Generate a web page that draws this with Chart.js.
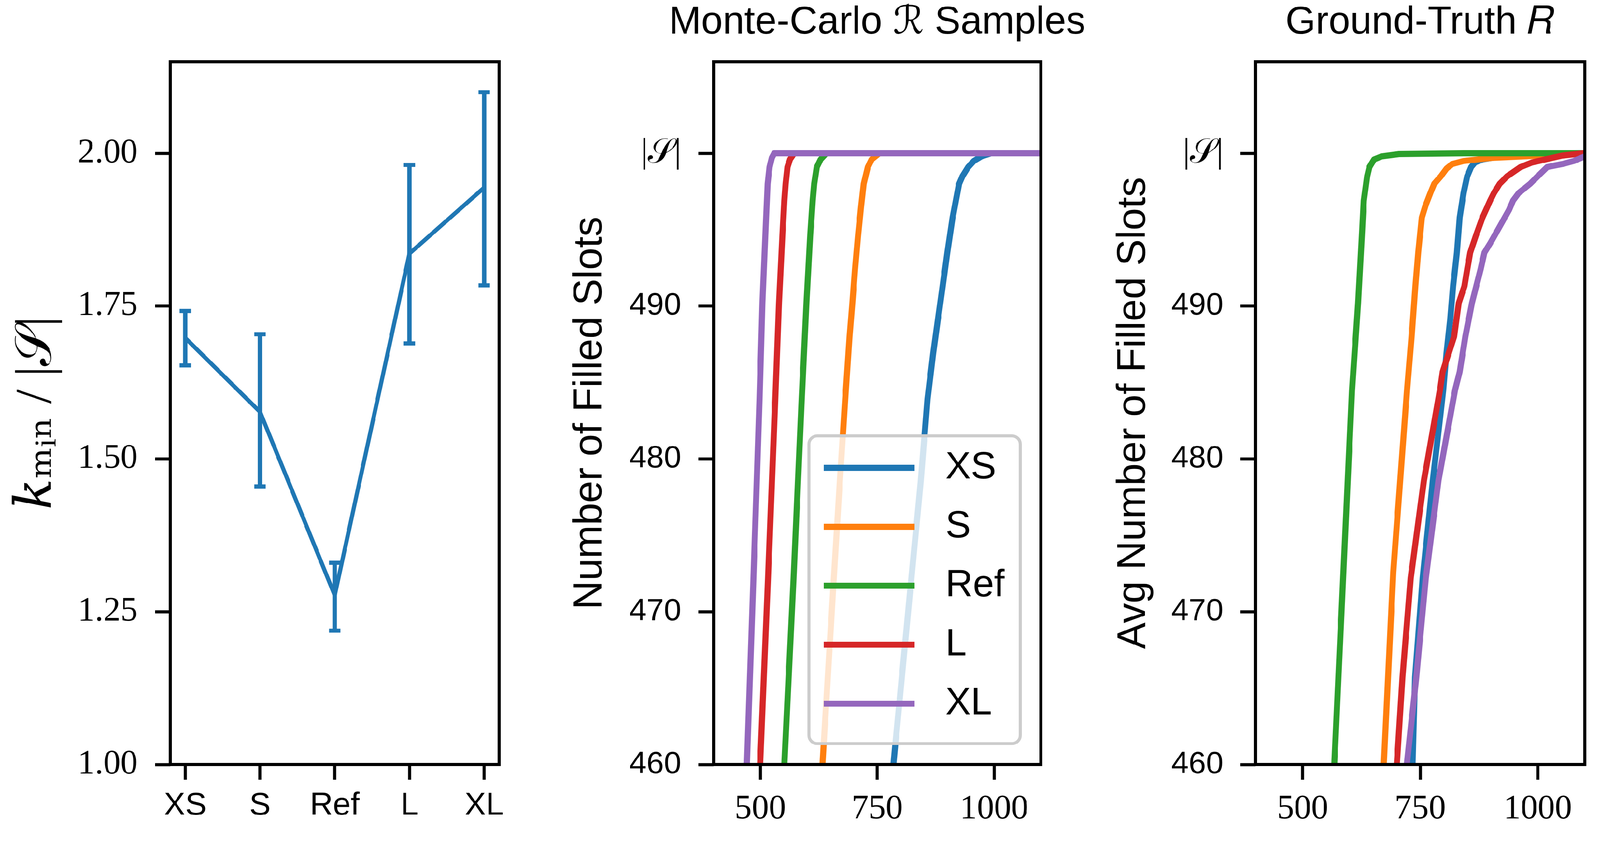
<!DOCTYPE html>
<html>
<head>
<meta charset="utf-8">
<script src="https://cdn.jsdelivr.net/npm/chart.js@4.4.1/dist/chart.umd.min.js"></script>
<style>
  html, body { margin: 0; padding: 0; background: #fff; overflow: hidden; }
  #page { position: relative; width: 4209px; height: 2185px; background: #fff; overflow: hidden; transform-origin: 0 0; }
  #page canvas { position: absolute; top: 0; }
</style>
</head>
<body>
<div id="page">
  <canvas id="sizeChart" width="1400" height="2185" style="left:0px"></canvas>
  <canvas id="mcChart" width="1500" height="2185" style="left:1440px"></canvas>
  <canvas id="gtChart" width="1349" height="2185" style="left:2860px"></canvas>
</div>
<script>
// --- data ---
const sizeLabels = ['XS', 'S', 'Ref', 'L', 'XL'];
const seriesColors = ['#1f77b4', '#ff7f0e', '#2ca02c', '#d62728', '#9467bd'];

// left panel: k_min / |S| per size, with error bar ends
const kMinMean = [1.698, 1.577, 1.277, 1.836, 1.944];
const kMinLow = [1.653, 1.455, 1.219, 1.689, 1.784];
const kMinHigh = [1.742, 1.704, 1.330, 1.981, 2.100];
const kMinTicks = [1.00, 1.25, 1.50, 1.75, 2.00];

// shared ticks of the two curve panels
const slotTicks = [460, 470, 480, 490, 500];
const slotTickText = ['460', '470', '480', '490', '|𝒮|'];
const sampleTicks = [500, 750, 1000];

// middle panel: Monte-Carlo samples, [x, filled slots]
const mcXS = [[784.7, 460], [823.2, 472.2], [843.4, 478.6], [857.6, 483.9], [869.7, 486.9], [879.8, 489.1],
  [890, 491.3], [900, 493.5], [911.4, 495.8], [918.3, 496.9], [925.2, 498], [932.4, 498.5], [944.6, 499.1],
  [956.7, 499.5], [972.9, 499.8], [993, 500], [1100, 500]];
const mcS = [[633, 460], [657.3, 472.2], [670.3, 478.6], [681.6, 483.9], [690.9, 488], [697, 490.2],
  [702.6, 492.4], [709.1, 494.6], [715.5, 496.5], [721.2, 498], [730.1, 499.1], [738.2, 499.6], [754.4, 500], [1100, 500]];
const mcRef = [[551.4, 460], [571.2, 472.2], [588.6, 483.9], [598.7, 490.2], [606.8, 494.6], [612, 496.9],
  [615.3, 498], [620.9, 499.1], [629, 499.6], [641.2, 500], [1100, 500]];
const mcL = [[499.6, 460], [516.6, 472.2], [532, 483.9], [540, 490.2], [547.3, 494.6], [551.4, 496.9],
  [554.2, 498], [558.2, 499.1], [563.5, 499.6], [572.4, 500], [1100, 500]];
const mcXL = [[471.3, 460], [485.4, 472.2], [498.4, 483.9], [504.5, 490.2], [512.5, 495.8], [515.8, 498],
  [519.8, 499.1], [524.7, 499.7], [529.9, 500], [1100, 500]];

// right panel: ground-truth average, [x, filled slots]
const gtXS = [[733.7, 460], [739, 465.7], [755.3, 472.2], [776.9, 478.6], [799, 484.5], [805.8, 486.9],
  [813.8, 489.1], [819.9, 491.3], [828, 493.5], [834, 495.8], [842.2, 497.4], [850, 498.5], [858.3, 499.1],
  [866.4, 499.4], [882.5, 499.6], [930, 499.85], [1000, 500], [1100, 500]];
const gtS = [[672.5, 460], [692.7, 472.6], [722, 484.5], [731.7, 488], [739.7, 491.3], [745.8, 493.5],
  [753.5, 495.8], [761.5, 496.6], [771.6, 497.4], [779.8, 498], [794, 498.5], [806, 499], [818, 499.3],
  [842.4, 499.5], [903, 499.7], [1004, 499.85], [1024, 500], [1100, 500]];
const gtRef = [[567.3, 460], [605, 484.5], [617.9, 490.2], [626, 494.6], [630, 496.9], [637.3, 498.5],
  [642, 499.1], [652, 499.6], [668, 499.8], [705, 499.95], [842, 500], [1100, 500]];
const gtL = [[700.2, 460], [712.3, 465.7], [729.8, 472.2], [758, 478.6], [792, 484.5], [797.7, 485.7],
  [822, 488], [832, 490.2], [844, 491.3], [850, 492.4], [856.3, 493.5], [868.4, 494.6], [882.5, 495.8],
  [898.7, 496.9], [906.8, 497.4], [918.9, 498], [935, 498.5], [963.4, 499.1], [987.7, 499.4], [1016, 499.6],
  [1052, 499.85], [1097, 500], [1100, 500]];
const gtXL = [[721.5, 460], [741.7, 465.7], [761.9, 472.2], [788.9, 478.6], [824, 484.5], [834, 485.7],
  [846, 488], [860, 490.2], [878.4, 492.4], [886.5, 493.5], [898.7, 494.1], [918.9, 495.2], [939, 496.3],
  [947.3, 496.9], [959.4, 497.4], [983.6, 498], [1000, 498.5], [1020, 499.1], [1052.5, 499.3],
  [1076.7, 499.5], [1100, 499.8]];

// fit the 4209x2185 page into whatever the viewport really is
(function fitPage() {
  const s = Math.min(window.innerWidth / 4209, window.innerHeight / 2185);
  if (s > 0 && Math.abs(s - 1) > 0.001) {
    document.getElementById('page').style.transform = 'scale(' + s + ')';
  }
})();

// --- styling ---
const SANS = "'Liberation Sans', 'DejaVu Sans', sans-serif";
const SERIF = "'Liberation Serif', 'DejaVu Serif', serif";
Chart.defaults.font.family = SANS;
Chart.defaults.color = '#000';

const serifTick = { family: SERIF, size: 90 };
const sansTick = { family: SANS, size: 84 };
const tickGrid = { drawOnChartArea: false, drawTicks: true, tickLength: 40, tickWidth: 8, tickColor: '#000' };

function fixedWidth(w) { return s => { s.width = w; }; }
function fixedHeight(h) { return s => { s.height = h; }; }
function useTicks(values) { return s => { s.ticks = values.map(v => ({ value: v })); }; }
function toPoints(pairs) { return pairs.map(([x, y]) => ({ x, y })); }

// black box round the plot area, like matplotlib spines
const axesFrame = {
  id: 'axesFrame',
  afterDatasetsDraw(chart) {
    const { ctx, chartArea: a } = chart;
    ctx.save();
    ctx.strokeStyle = '#000';
    ctx.lineWidth = 8;
    ctx.strokeRect(a.left, a.top, a.right - a.left, a.bottom - a.top);
    ctx.restore();
  }
};

// panel title centred over the plot area
const panelTitle = {
  id: 'panelTitle',
  afterDraw(chart, args, opts) {
    if (!opts.text) return;
    const { ctx, chartArea: a } = chart;
    ctx.save();
    ctx.font = opts.size + 'px ' + SANS;
    ctx.fillStyle = '#000';
    ctx.textAlign = 'center';
    ctx.textBaseline = 'middle';
    ctx.fillText(opts.text, (a.left + a.right) / 2, opts.y);
    ctx.restore();
  }
};

// legend box in the lower right of the plot area
const insetLegend = {
  id: 'insetLegend',
  afterDatasetsDraw(chart, args, opts) {
    if (!opts.display) return;
    const { ctx, chartArea: a } = chart;
    const x0 = a.right - opts.right - opts.width;
    const y0 = a.bottom - opts.bottom - opts.height;
    ctx.save();
    ctx.beginPath();
    ctx.roundRect(x0, y0, opts.width, opts.height, opts.radius);
    ctx.fillStyle = 'rgba(255,255,255,0.8)';
    ctx.fill();
    ctx.lineWidth = 8;
    ctx.strokeStyle = '#cccccc';
    ctx.stroke();
    ctx.font = opts.fontSize + 'px ' + SANS;
    ctx.textBaseline = 'middle';
    ctx.textAlign = 'left';
    chart.data.datasets.forEach((ds, i) => {
      const y = y0 + opts.firstRow + i * opts.rowGap;
      ctx.strokeStyle = ds.borderColor;
      ctx.lineWidth = ds.borderWidth;
      ctx.beginPath();
      ctx.moveTo(x0 + opts.handleLeft, y);
      ctx.lineTo(x0 + opts.handleLeft + opts.handleLen, y);
      ctx.stroke();
      ctx.fillStyle = '#000';
      ctx.fillText(ds.label, x0 + opts.textLeft, y);
    });
    ctx.restore();
  }
};

const baseOptions = {
  responsive: false,
  animation: false,
  devicePixelRatio: 1,
  events: []
};

// --- left panel ---
new Chart(document.getElementById('sizeChart'), {
  type: 'line',
  data: {
    datasets: [
      {
        label: 'kmin',
        data: kMinMean.map((v, i) => ({ x: i, y: v })),
        borderColor: seriesColors[0],
        borderWidth: 11,
        pointRadius: 0,
        tension: 0
      },
      {
        type: 'bar',
        label: 'range',
        data: kMinLow.map((lo, i) => ({ x: i, y: [lo, kMinHigh[i]] })),
        backgroundColor: seriesColors[0],
        borderWidth: 0,
        barThickness: 11
      },
      {
        label: 'caps',
        data: kMinLow.map((lo, i) => ({ x: i, y: lo })).concat(kMinHigh.map((hi, i) => ({ x: i, y: hi }))),
        showLine: false,
        pointStyle: 'line',
        pointRadius: 15,
        pointBorderWidth: 11,
        pointBorderColor: seriesColors[0],
        borderColor: seriesColors[0]
      }
    ]
  },
  options: {
    ...baseOptions,
    layout: { padding: { top: 162, right: 87, bottom: 0, left: 0 } },
    plugins: { legend: { display: false }, tooltip: { enabled: false }, insetLegend: { display: false }, panelTitle: {} },
    scales: {
      x: {
        type: 'linear', min: -0.2, max: 4.2, offset: false,
        afterBuildTicks: useTicks(sizeLabels.map((_, i) => i)),
        afterFit: fixedHeight(175),
        border: { display: false },
        grid: { ...tickGrid, offset: false },
        ticks: { padding: 18, font: sansTick, autoSkip: false, maxRotation: 0, callback: v => sizeLabels[v] }
      },
      y: {
        type: 'linear', min: 1.0, max: 2.15,
        afterBuildTicks: useTicks(kMinTicks),
        afterFit: fixedWidth(448),
        border: { display: false },
        grid: tickGrid,
        ticks: { padding: 46, font: serifTick, autoSkip: false, callback: v => v.toFixed(2) },
        title: {
          display: true, text: '𝑘ₘᵢₙ / |𝒮|',
          font: { family: SERIF, size: 135 }, padding: { top: 18, bottom: 0 }
        }
      }
    }
  },
  plugins: [axesFrame, insetLegend, panelTitle]
});

// --- curve panels ---
function curveChart(canvasId, series, title, yTitle, yTitlePad, yWidth, rightPad, legend) {
  return new Chart(document.getElementById(canvasId), {
    type: 'line',
    data: {
      datasets: series.map((pairs, i) => ({
        label: sizeLabels[i],
        data: toPoints(pairs),
        borderColor: seriesColors[i],
        backgroundColor: seriesColors[i],
        borderWidth: 16,
        pointRadius: 0,
        tension: 0,
        fill: false,
        clip: 0,
        borderJoinStyle: 'round',
        order: series.length - i
      }))
    },
    options: {
      ...baseOptions,
      layout: { padding: { top: 162, right: rightPad, bottom: 0, left: 0 } },
      plugins: {
        legend: { display: false },
        tooltip: { enabled: false },
        panelTitle: { text: title, size: 102, y: 60 },
        insetLegend: legend
      },
      scales: {
        x: {
          type: 'linear', min: 400, max: 1100,
          afterBuildTicks: useTicks(sampleTicks),
          afterFit: fixedHeight(175),
          border: { display: false },
          grid: tickGrid,
          ticks: { padding: 24, font: serifTick, autoSkip: false, maxRotation: 0, callback: v => String(v) }
        },
        y: {
          type: 'linear', min: 460, max: 506,
          afterBuildTicks: useTicks(slotTicks),
          afterFit: fixedWidth(yWidth),
          border: { display: false },
          grid: tickGrid,
          ticks: {
            padding: 45, autoSkip: false,
            font: ctx => (ctx.tick && ctx.tick.value === 500 ? serifTick : { family: SANS, size: 82 }),
            callback: v => slotTickText[slotTicks.indexOf(v)]
          },
          title: {
            display: true, text: yTitle,
            font: { family: SANS, size: 105 }, padding: { top: yTitlePad, bottom: 0 }
          }
        }
      }
    },
    plugins: [axesFrame, insetLegend, panelTitle]
  });
}

curveChart('mcChart', [mcXS, mcS, mcRef, mcL, mcXL], 'Monte-Carlo ℛ Samples',
  'Number of Filled Slots', 50, 437, 202, {
    display: true, width: 556, height: 809, right: 54, bottom: 55, radius: 22,
    firstRow: 84, rowGap: 155, handleLeft: 39, handleLen: 239, textLeft: 359, fontSize: 100
  });

curveChart('gtChart', [gtXS, gtS, gtRef, gtL, gtXL], 'Ground-Truth 𝑅',
  'Avg Number of Filled Slots', 60, 443, 40, { display: false });
</script>
</body>
</html>
